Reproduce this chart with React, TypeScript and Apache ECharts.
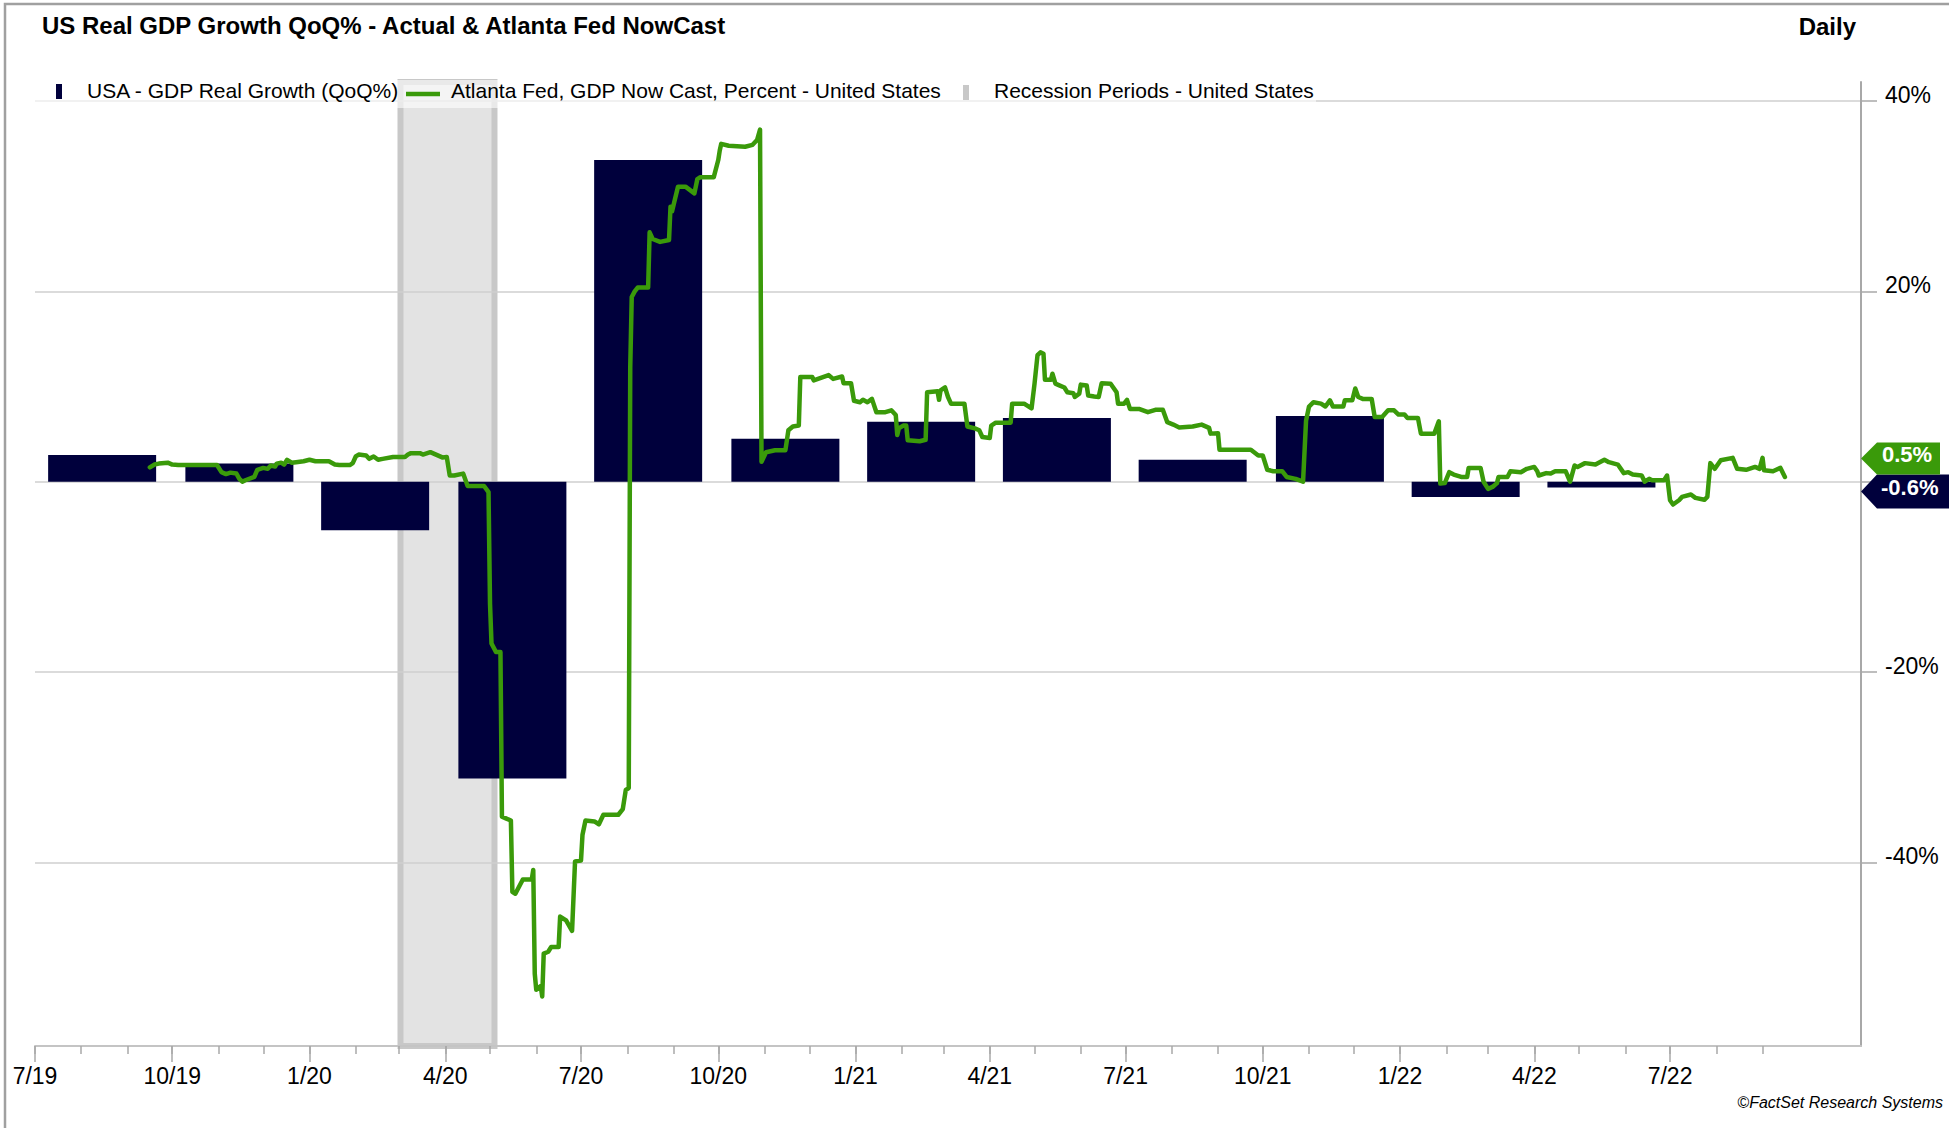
import React, { useEffect, useRef } from "react";
import * as echarts from "echarts";

// ---------- data ----------
const axisStart = "2019-07-01";
const axisEnd = "2022-11-06";
const yMin = -59.3;
const yMax = 42;
const yTickValues = [-40, -20, 0, 20, 40];
const yLabelValues = [-40, -20, 20, 40];

const quarterTicks = [
  "2019-07-01", "2019-10-01", "2020-01-01", "2020-04-01", "2020-07-01", "2020-10-01",
  "2021-01-01", "2021-04-01", "2021-07-01", "2021-10-01", "2022-01-01", "2022-04-01", "2022-07-01",
];
const monthTicks = [
  "2019-07-01", "2019-08-01", "2019-09-01", "2019-10-01", "2019-11-01", "2019-12-01",
  "2020-01-01", "2020-02-01", "2020-03-01", "2020-04-01", "2020-05-01", "2020-06-01",
  "2020-07-01", "2020-08-01", "2020-09-01", "2020-10-01", "2020-11-01", "2020-12-01",
  "2021-01-01", "2021-02-01", "2021-03-01", "2021-04-01", "2021-05-01", "2021-06-01",
  "2021-07-01", "2021-08-01", "2021-09-01", "2021-10-01", "2021-11-01", "2021-12-01",
  "2022-01-01", "2022-02-01", "2022-03-01", "2022-04-01", "2022-05-01", "2022-06-01",
  "2022-07-01", "2022-08-01", "2022-09-01",
];

const gdpQuarterMid = [
  "2019-08-15", "2019-11-15", "2020-02-14", "2020-05-16", "2020-08-15", "2020-11-15",
  "2021-02-14", "2021-05-16", "2021-08-15", "2021-11-15", "2022-02-14", "2022-05-16",
];
const gdpValues = [2.8, 1.9, -5.1, -31.2, 33.8, 4.5, 6.3, 6.7, 2.3, 6.9, -1.6, -0.6];

const recessionStart = "2020-03-02";
const recessionEnd = "2020-05-04";

const nowcastDates = [
  "2019-09-16","2019-09-19","2019-09-22","2019-09-28","2019-10-01","2019-10-05","2019-10-31","2019-11-03",
  "2019-11-06","2019-11-09","2019-11-13","2019-11-15","2019-11-17","2019-11-19","2019-11-25","2019-11-27",
  "2019-12-01","2019-12-04","2019-12-06","2019-12-09","2019-12-10","2019-12-13","2019-12-15","2019-12-17",
  "2019-12-20","2019-12-23","2019-12-28","2020-01-01","2020-01-05","2020-01-14","2020-01-18","2020-01-21",
  "2020-01-28","2020-01-30","2020-02-01","2020-02-03","2020-02-08","2020-02-10","2020-02-13","2020-02-16",
  "2020-02-19","2020-02-26","2020-03-05","2020-03-07","2020-03-09","2020-03-15","2020-03-17","2020-03-22",
  "2020-03-30","2020-04-02","2020-04-04","2020-04-07","2020-04-13","2020-04-16","2020-04-27","2020-04-30",
  "2020-05-01","2020-05-02","2020-05-05","2020-05-08","2020-05-09","2020-05-12","2020-05-15","2020-05-16",
  "2020-05-18","2020-05-23","2020-05-29","2020-05-30","2020-05-31","2020-06-01","2020-06-04","2020-06-05",
  "2020-06-06","2020-06-09","2020-06-11","2020-06-16","2020-06-17","2020-06-21","2020-06-25","2020-06-27",
  "2020-07-01","2020-07-02","2020-07-04","2020-07-10","2020-07-13","2020-07-16","2020-07-26","2020-07-29",
  "2020-07-31","2020-08-02","2020-08-03","2020-08-04","2020-08-06","2020-08-08","2020-08-15","2020-08-16",
  "2020-08-18","2020-08-23","2020-08-29","2020-08-30","2020-08-31","2020-09-02","2020-09-04","2020-09-09",
  "2020-09-15","2020-09-17","2020-09-19","2020-09-28","2020-10-01","2020-10-02","2020-10-03","2020-10-08",
  "2020-10-19","2020-10-24","2020-10-27","2020-10-29","2020-10-30","2020-11-02","2020-11-08","2020-11-15",
  "2020-11-17","2020-11-20","2020-11-24","2020-11-25","2020-12-03","2020-12-04","2020-12-14","2020-12-17",
  "2020-12-23","2020-12-24","2020-12-29","2020-12-31","2021-01-04","2021-01-06","2021-01-09","2021-01-12",
  "2021-01-15","2021-01-21","2021-01-25","2021-01-28","2021-01-29","2021-01-30","2021-02-02","2021-02-04",
  "2021-02-05","2021-02-13","2021-02-17","2021-02-18","2021-02-25","2021-02-26","2021-02-27","2021-03-02",
  "2021-03-04","2021-03-06","2021-03-15","2021-03-17","2021-03-22","2021-03-25","2021-03-27","2021-04-01",
  "2021-04-02","2021-04-05","2021-04-15","2021-04-16","2021-04-24","2021-04-29","2021-05-01","2021-05-03",
  "2021-05-05","2021-05-07","2021-05-08","2021-05-12","2021-05-13","2021-05-15","2021-05-18","2021-05-21",
  "2021-05-23","2021-05-27","2021-05-28","2021-05-31","2021-06-01","2021-06-05","2021-06-06","2021-06-10",
  "2021-06-13","2021-06-15","2021-06-21","2021-06-25","2021-06-26","2021-06-30","2021-07-02","2021-07-04",
  "2021-07-10","2021-07-16","2021-07-21","2021-07-26","2021-07-29","2021-08-02","2021-08-06","2021-08-15",
  "2021-08-21","2021-08-26","2021-08-27","2021-09-01","2021-09-02","2021-09-23","2021-09-28","2021-10-01",
  "2021-10-04","2021-10-08","2021-10-14","2021-10-17","2021-10-23","2021-10-28","2021-10-30","2021-11-01",
  "2021-11-04","2021-11-09","2021-11-12","2021-11-15","2021-11-17","2021-11-24","2021-11-25","2021-11-30",
  "2021-12-02","2021-12-04","2021-12-07","2021-12-13","2021-12-15","2021-12-20","2021-12-24","2021-12-28",
  "2021-12-31","2022-01-04","2022-01-06","2022-01-13","2022-01-15","2022-01-24","2022-01-27","2022-01-28",
  "2022-01-31","2022-02-03","2022-02-06","2022-02-11","2022-02-15","2022-02-16","2022-02-24","2022-02-26",
  "2022-03-01","2022-03-04","2022-03-07","2022-03-08","2022-03-14","2022-03-16","2022-03-23","2022-03-27",
  "2022-04-01","2022-04-03","2022-04-04","2022-04-09","2022-04-12","2022-04-15","2022-04-22","2022-04-25",
  "2022-04-28","2022-04-30","2022-05-05","2022-05-12","2022-05-18","2022-05-21","2022-05-27","2022-05-31",
  "2022-06-03","2022-06-06","2022-06-12","2022-06-14","2022-06-17","2022-06-19","2022-06-27","2022-06-29",
  "2022-07-01","2022-07-03","2022-07-07","2022-07-09","2022-07-15","2022-07-18","2022-07-24","2022-07-26",
  "2022-07-28","2022-07-31","2022-08-04","2022-08-12","2022-08-15","2022-08-21","2022-08-27","2022-08-30",
  "2022-09-01","2022-09-02","2022-09-08","2022-09-13","2022-09-16",
];
const nowcastValues = [
  1.5, 1.8, 1.9, 2.0, 1.8, 1.75, 1.75, 1.0,
  0.8, 0.95, 0.85, 0.3, 0.0, 0.15, 0.5, 1.25,
  1.45, 1.35, 1.7, 1.6, 1.9, 2.0, 1.8, 2.3,
  2.0, 2.05, 2.15, 2.3, 2.15, 2.15, 1.8, 1.75,
  1.75, 1.95, 2.65, 2.85, 2.75, 2.4, 2.65, 2.3,
  2.4, 2.6, 2.6, 2.85, 3.0, 3.0, 2.85, 3.1,
  2.55, 2.6, 0.65, 0.65, 0.85, -0.45, -0.45, -1.1,
  -12.8, -17.0, -17.9, -17.9, -35.2, -35.4, -35.6, -43.1,
  -43.3, -41.8, -41.8, -40.8, -51.7, -53.4, -53.0, -54.1,
  -49.6, -49.4, -48.9, -48.9, -45.7, -46.1, -47.2, -39.9,
  -39.8, -37.1, -35.6, -35.7, -36.0, -35.0, -35.0, -34.4,
  -32.4, -32.2, 12.0, 19.4, 20.0, 20.4, 20.4, 26.2,
  25.5, 25.2, 25.4, 28.9, 28.4, 29.7, 31.0, 31.0,
  30.3, 31.8, 32.0, 32.0, 33.8, 34.8, 35.5, 35.3,
  35.2, 35.4, 35.9, 37.0, 2.1, 3.1, 3.3, 3.3,
  5.4, 5.8, 5.9, 11.0, 11.0, 10.65, 11.2, 10.8,
  11.05, 10.35, 10.35, 8.5, 8.35, 8.6, 8.35, 8.7,
  7.3, 7.3, 7.5, 7.0, 4.9, 5.6, 5.9, 5.9,
  4.35, 4.25, 4.4, 9.4, 9.5, 8.6, 9.6, 9.9,
  8.9, 8.2, 8.2, 5.8, 5.6, 5.4, 4.7, 4.6,
  5.9, 6.2, 6.2, 8.2, 8.2, 7.7, 10.3, 13.3,
  13.6, 13.45, 10.7, 10.7, 11.35, 10.3, 10.1, 9.9,
  9.4, 9.3, 8.9, 9.25, 10.2, 10.1, 9.05, 8.95,
  8.9, 10.35, 10.3, 9.4, 8.2, 8.2, 8.6, 7.65,
  7.65, 7.3, 7.55, 7.55, 6.25, 6.0, 5.7, 5.8,
  6.0, 5.65, 5.05, 5.1, 3.35, 3.35, 2.75, 2.75,
  1.25, 1.1, 1.1, 0.5, 0.3, 0.0, 6.4, 7.9,
  8.35, 8.2, 7.9, 8.55, 7.9, 7.9, 8.55, 8.55,
  9.8, 8.9, 8.7, 8.7, 6.8, 6.8, 7.5, 7.5,
  7.05, 7.05, 6.7, 6.7, 5.05, 5.05, 6.35, -0.2,
  -0.15, 1.0, 0.75, 0.5, 0.5, 1.45, 1.45, 0.0,
  -0.75, -0.55, -0.15, 0.5, 0.5, 1.1, 1.0, 1.35,
  1.55, 1.1, 0.65, 0.9, 0.85, 1.1, 1.1, 0.0,
  1.7, 1.55, 1.95, 1.8, 2.3, 2.05, 1.8, 0.9,
  1.0, 0.75, 0.65, 0.0, 0.3, 0.15, 0.15, 0.65,
  -1.95, -2.4, -1.95, -1.6, -1.35, -1.7, -1.9, -1.6,
  1.95, 1.35, 2.25, 2.5, 1.35, 1.25, 1.55, 1.35,
  2.5, 1.2, 1.1, 1.45, 0.5,
];

// ---------- styling ----------
const NAVY = "#00003c";
const GREEN = "#3a9a0a";
const FONT = '"Liberation Sans", Arial, Helvetica, sans-serif';
const t = (s: string) => Date.parse(s + "T00:00:00Z");
const fmtQ = (v: number) => {
  const d = new Date(v);
  return d.getUTCMonth() + 1 + "/" + String(d.getUTCFullYear()).slice(2);
};

export default function App() {
  const ref = useRef<HTMLDivElement>(null);

  useEffect(() => {
    document.body.style.margin = "0";
    if (!ref.current) return;
    const chart = echarts.init(ref.current, null, { renderer: "svg" });

    const xMin = t(axisStart);
    const xMax = t(axisEnd);

    chart.setOption({
      animation: false,
      backgroundColor: "#ffffff",
      textStyle: { fontFamily: FONT },
      grid: { left: 35, right: 88, top: 82, bottom: 82, containLabel: false },
      xAxis: [
        {
          type: "value",
          min: xMin,
          max: xMax,
          position: "bottom",
          z: 1.5,
          axisLine: { show: true, onZero: false, lineStyle: { color: "#c4c4c4", width: 2 } },
          axisTick: {
            show: true,
            length: 16,
            customValues: quarterTicks.map(t),
            lineStyle: { color: "#a8a8a8", width: 1.5 },
          },
          axisLabel: {
            show: true,
            customValues: quarterTicks.map(t),
            formatter: (v: number) => fmtQ(v),
            margin: 30,
            verticalAlign: "middle",
            fontSize: 23,
            color: "#000",
            fontFamily: FONT,
          },
          splitLine: { show: false },
        },
        {
          type: "value",
          min: xMin,
          max: xMax,
          position: "bottom",
          z: 1.5,
          axisLine: { show: false, onZero: false },
          axisTick: {
            show: true,
            length: 8,
            customValues: monthTicks.map(t),
            lineStyle: { color: "#a8a8a8", width: 1.5 },
          },
          axisLabel: { show: false },
          splitLine: { show: false },
        },
      ],
      yAxis: {
        type: "value",
        position: "right",
        min: yMin,
        max: yMax,
        z: 1.5,
        axisLine: { show: true, lineStyle: { color: "#a8a8a8", width: 2 } },
        axisTick: {
          show: true,
          length: 16,
          customValues: yTickValues,
          lineStyle: { color: "#a8a8a8", width: 1.5 },
        },
        axisLabel: {
          show: true,
          customValues: yLabelValues,
          formatter: (v: number) => v + "%",
          margin: 24,
          fontSize: 23,
          color: "#000",
          fontFamily: FONT,
          verticalAlign: "bottom",
          lineHeight: 12,
        },
        splitLine: { show: true, lineStyle: { color: "#cfcfcf", width: 1.5 } },
      },
      series: [
        {
          name: "USA - GDP Real Growth (QoQ%)",
          type: "bar",
          xAxisIndex: 0,
          z: 2,
          barWidth: 108,
          itemStyle: { color: NAVY },
          data: gdpQuarterMid.map((d, i) => [t(d), gdpValues[i]]),
          markArea: {
            silent: true,
            z: 1,
            itemStyle: { color: "#e3e3e3", borderColor: "#c8c8c8", borderWidth: 6 },
            label: { show: false },
            data: [[{ xAxis: t(recessionStart) }, { xAxis: t(recessionEnd) }]],
          },
        },
        {
          name: "Atlanta Fed, GDP Now Cast, Percent - United States",
          type: "line",
          xAxisIndex: 0,
          z: 3,
          showSymbol: false,
          symbol: "none",
          lineStyle: { color: GREEN, width: 4.5, join: "round", cap: "round" },
          data: nowcastDates.map((d, i) => [t(d), nowcastValues[i]]),
        },
      ],
    });

    // annotation positions derived from the axes
    const lastGdp = gdpValues[gdpValues.length - 1];
    const lastNow = nowcastValues[nowcastValues.length - 1];
    const yN = (chart.convertToPixel({ yAxisIndex: 0 }, lastGdp) as number) + 4;
    const yG = yN - 33;
    const xA = chart.convertToPixel({ xAxisIndex: 0 }, xMax) as number;

    const txt = (text: string, x: number, y: number, extra: any = {}) => ({
      type: "text",
      x,
      y,
      z: 100,
      style: {
        text,
        fill: "#000",
        fontFamily: FONT,
        fontSize: 21,
        verticalAlign: "middle",
        align: "left",
        ...extra,
      },
    });

    chart.setOption({
      graphic: [
        // frame
        {
          type: "rect",
          z: 100,
          shape: { x: 5, y: 4, width: 2000, height: 2000 },
          style: { fill: "none", stroke: "#a0a0a0", lineWidth: 2.5 },
        },
        // titles
        txt("US Real GDP Growth QoQ% - Actual & Atlanta Fed NowCast", 42, 25, {
          fontSize: 24,
          fontWeight: "bold",
        }),
        txt("Daily", 1856, 26, { fontSize: 24, fontWeight: "bold", align: "right" }),
        // legend
        {
          type: "rect",
          z: 99,
          shape: { x: 35, y: 80, width: 1281, height: 28 },
          style: { fill: "rgba(255,255,255,0.6)" },
        },
        { type: "rect", z: 100, shape: { x: 56, y: 84, width: 6, height: 15 }, style: { fill: NAVY } },
        txt("USA - GDP Real Growth (QoQ%)", 87, 90),
        {
          type: "line",
          z: 100,
          shape: { x1: 406, y1: 94, x2: 440, y2: 94 },
          style: { stroke: GREEN, lineWidth: 4.5 },
        },
        txt("Atlanta Fed, GDP Now Cast, Percent - United States", 451, 90),
        { type: "rect", z: 100, shape: { x: 963, y: 85, width: 6, height: 15 }, style: { fill: "#c8c8c8" } },
        txt("Recession Periods - United States", 994, 90),
        // end tags
        {
          type: "polygon",
          z: 100,
          shape: {
            points: [
              [xA, yN],
              [xA + 16, yN - 17],
              [1949, yN - 17],
              [1949, yN + 17],
              [xA + 16, yN + 17],
            ],
          },
          style: { fill: NAVY },
        },
        txt(lastGdp.toFixed(1) + "%", 1881, yN - 4, { fill: "#fff", fontWeight: "bold", fontSize: 22 }),
        {
          type: "polygon",
          z: 100,
          shape: {
            points: [
              [xA, yG],
              [xA + 16, yG - 16],
              [xA + 79, yG - 16],
              [xA + 79, yG + 16],
              [xA + 16, yG + 16],
            ],
          },
          style: { fill: GREEN },
        },
        txt(lastNow.toFixed(1) + "%", 1882, yG - 4, { fill: "#fff", fontWeight: "bold", fontSize: 22 }),
        // source
        txt("©FactSet Research Systems", 1943, 1102, {
          fontSize: 16,
          fontStyle: "italic",
          align: "right",
        }),
      ],
    });

    return () => chart.dispose();
  }, []);

  return <div ref={ref} style={{ width: 1949, height: 1128 }} />;
}
